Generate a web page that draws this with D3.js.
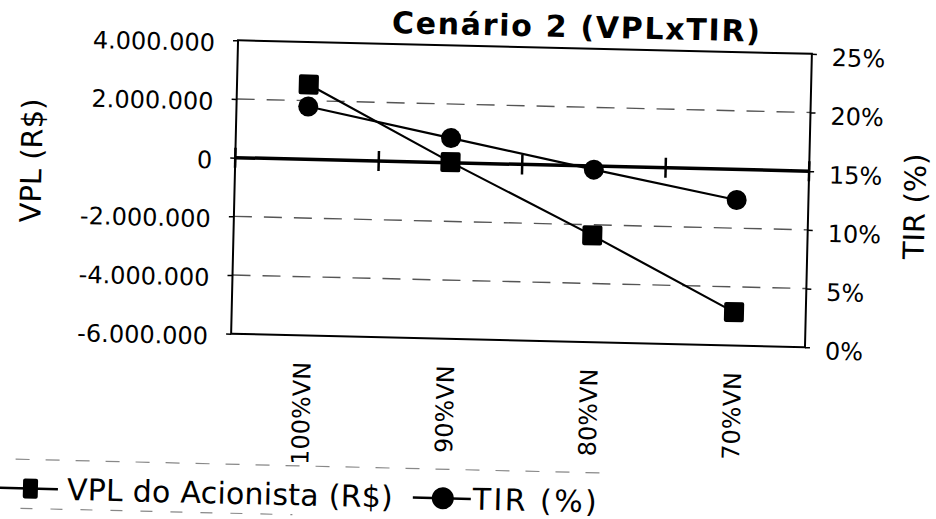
<!DOCTYPE html>
<html>
<head>
<meta charset="utf-8">
<script src="https://cdn.jsdelivr.net/npm/d3@7"></script>
<style>
  html, body { margin: 0; padding: 0; background: #fff; }
  svg { display: block; }
  text { font-family: "DejaVu Sans", Verdana, sans-serif; fill: #000; }
</style>
</head>
<body>
<script>
// ---- data ----
const categories = ["100%VN", "90%VN", "80%VN", "70%VN"];
const vplValues = [2550000, 20000, -2360000, -4860000];   // VPL do Acionista (R$)
const tirValues = [19.5, 17.1, 14.7, 12.4];               // TIR (%)
const vplTicks = [4000000, 2000000, 0, -2000000, -4000000, -6000000];
const tirTicks = [0, 5, 10, 15, 20, 25];
const titleText = "Cenário 2 (VPLxTIR)";
const seriesNames = ["VPL do Acionista (R$)", "TIR (%)"];

// ---- layout ----
const W = 936, H = 519;
const plot = { left: 234.5, right: 808.5, top: 47, bottom: 340.5 };

const svg = d3.select("body").append("svg").attr("width", W).attr("height", H);
svg.append("rect").attr("width", W).attr("height", H).attr("fill", "#fff");

// the scanned original is slightly tilted
const g = svg.append("g").attr("transform", "rotate(1.35,521,194)");

const x = d3.scaleBand().domain(categories).range([plot.left, plot.right]);
const yL = d3.scaleLinear().domain([-6000000, 4000000]).range([plot.bottom, plot.top]);
const yR = d3.scaleLinear().domain([0, 25]).range([plot.bottom, plot.top]);

const loc = d3.formatLocale({ decimal: ",", thousands: ".", grouping: [3], currency: ["R$", ""], minus: "-" });
const fmt = loc.format(",d");

// gridlines
g.append("g").selectAll("line")
  .data(vplTicks.filter(v => v !== 4000000 && v !== -6000000 && v !== 0))
  .join("line")
  .attr("x1", plot.left).attr("x2", plot.right)
  .attr("y1", d => yL(d)).attr("y2", d => yL(d))
  .attr("stroke", "#555").attr("stroke-width", 1.4)
  .attr("stroke-dasharray", "18,12");

// plot border
g.append("rect")
  .attr("x", plot.left).attr("y", plot.top)
  .attr("width", plot.right - plot.left).attr("height", plot.bottom - plot.top)
  .attr("fill", "none").attr("stroke", "#000").attr("stroke-width", 2);

// category axis crossing at VPL = 0
const y0 = yL(0);
g.append("line")
  .attr("x1", plot.left).attr("x2", plot.right)
  .attr("y1", y0).attr("y2", y0)
  .attr("stroke", "#000").attr("stroke-width", 3.5);
g.append("g").selectAll("line")
  .data(d3.range(categories.length + 1))
  .join("line")
  .attr("x1", i => x.range()[0] + i * x.step())
  .attr("x2", i => x.range()[0] + i * x.step())
  .attr("y1", y0 - 10).attr("y2", y0 + 10)
  .attr("stroke", "#000").attr("stroke-width", 2.5);

// left axis
const axL = g.append("g").attr("transform", `translate(${plot.left},0)`)
  .call(d3.axisLeft(yL).tickValues(vplTicks).tickFormat(fmt).tickSize(5).tickPadding(18));
axL.select(".domain").remove();
axL.selectAll("line").attr("stroke", "#000").attr("stroke-width", 1.5);
axL.selectAll("text").attr("font-size", 24).attr("dy", "0.45em")
  .style("font-family", "'DejaVu Sans', Verdana, sans-serif");

// right axis
const axR = g.append("g").attr("transform", `translate(${plot.right},0)`)
  .call(d3.axisRight(yR).tickValues(tirTicks).tickFormat(d => d + "%").tickSize(5).tickPadding(15));
axR.select(".domain").remove();
axR.selectAll("line").attr("stroke", "#000").attr("stroke-width", 1.5);
axR.selectAll("text").attr("font-size", 24).attr("dy", "0.47em")
  .style("font-family", "'DejaVu Sans', Verdana, sans-serif");

// category labels (rotated, below plot)
const bw = x.bandwidth();
g.append("g").selectAll("text")
  .data(categories)
  .join("text")
  .attr("x", d => x(d) + bw / 2 + 8.5)
  .attr("y", 367)
  .attr("transform", d => `rotate(-90,${x(d) + bw / 2 + 8.5},367)`)
  .attr("text-anchor", "end")
  .attr("font-size", 24)
  .text(d => d);

// axis titles
g.append("text")
  .attr("x", 41).attr("y", 172)
  .attr("transform", "rotate(-90,41,172)")
  .attr("text-anchor", "middle").attr("font-size", 29)
  .text("VPL (R$)");
g.append("text")
  .attr("x", 925).attr("y", 197)
  .attr("transform", "rotate(-90,925,197)")
  .attr("text-anchor", "middle").attr("font-size", 29)
  .text("TIR (%)");

// title
g.append("text")
  .attr("x", 388).attr("y", 36)
  .attr("font-size", 30).attr("font-weight", "bold")
  .attr("textLength", 368).attr("lengthAdjust", "spacing")
  .text(titleText);

// series
const cx = c => x(c) + bw / 2;
const vplData = categories.map((c, i) => ({ c, v: vplValues[i] }));
const tirData = categories.map((c, i) => ({ c, v: tirValues[i] }));

g.append("path").datum(vplData)
  .attr("d", d3.line().x(d => cx(d.c)).y(d => yL(d.v)))
  .attr("fill", "none").attr("stroke", "#000").attr("stroke-width", 2.2);
g.append("path").datum(tirData)
  .attr("d", d3.line().x(d => cx(d.c)).y(d => yR(d.v)))
  .attr("fill", "none").attr("stroke", "#000").attr("stroke-width", 2.2);

g.append("g").selectAll("rect")
  .data(vplData).join("rect")
  .attr("x", d => cx(d.c) - 10).attr("y", d => yL(d.v) - 10)
  .attr("width", 20).attr("height", 20).attr("rx", 2)
  .attr("fill", "#000");
g.append("g").selectAll("circle")
  .data(tirData).join("circle")
  .attr("cx", d => cx(d.c)).attr("cy", d => yR(d.v)).attr("r", 10)
  .attr("fill", "#000");

// legend
const lg = g.append("g");
lg.append("line").attr("x1", 22).attr("x2", 617).attr("y1", 471).attr("y2", 471)
  .attr("stroke", "#888").attr("stroke-width", 1.2).attr("stroke-dasharray", "14,16");
lg.append("line").attr("x1", 28).attr("x2", 300).attr("y1", 520).attr("y2", 520)
  .attr("stroke", "#888").attr("stroke-width", 1.2).attr("stroke-dasharray", "12,18");

lg.append("line").attr("x1", 7).attr("x2", 65).attr("y1", 500).attr("y2", 500)
  .attr("stroke", "#000").attr("stroke-width", 2.5);
lg.append("rect").attr("x", 30).attr("y", 490).attr("width", 15).attr("height", 20).attr("rx", 2)
  .attr("fill", "#000");
lg.append("text").attr("x", 74).attr("y", 510.5).attr("font-size", 30)
  .attr("textLength", 326).attr("lengthAdjust", "spacing")
  .text(seriesNames[0]);

lg.append("line").attr("x1", 420).attr("x2", 478).attr("y1", 500).attr("y2", 500)
  .attr("stroke", "#000").attr("stroke-width", 2.5);
lg.append("circle").attr("cx", 450).attr("cy", 500).attr("r", 11).attr("fill", "#000");
lg.append("text").attr("x", 480).attr("y", 510.5).attr("font-size", 30)
  .attr("textLength", 124).attr("lengthAdjust", "spacing")
  .text(seriesNames[1]);
</script>
</body>
</html>
